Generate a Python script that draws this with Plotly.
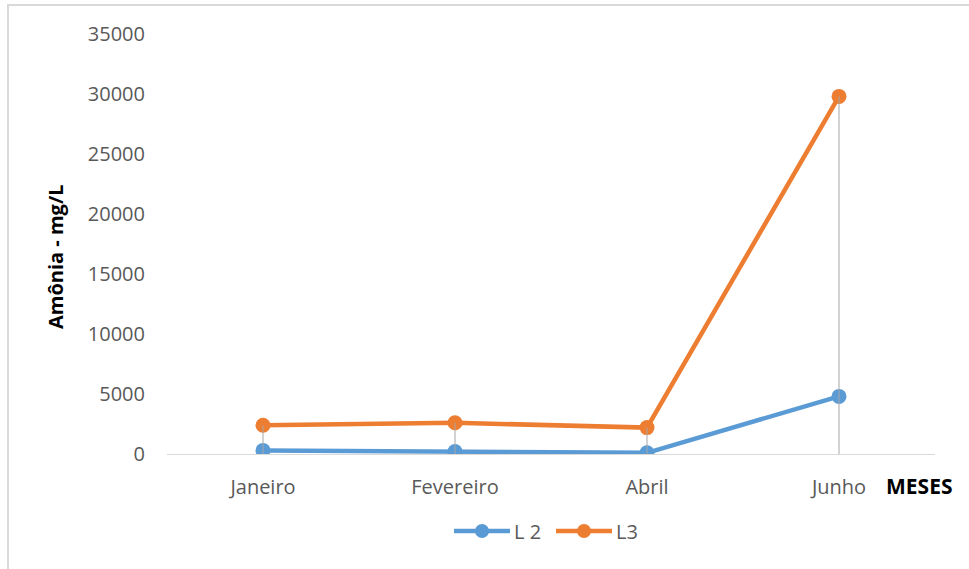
import plotly.graph_objects as go

# Monthly ammonia readings (mg/L) for the two lines
meses = ["Janeiro", "Fevereiro", "Abril", "Junho"]
l2 = [300, 200, 100, 4800]
l3 = [2400, 2600, 2200, 29800]
y_ticks = [0, 5000, 10000, 15000, 20000, 25000, 30000, 35000]
series_names = ["L 2", "L3"]

BLUE = "#5B9BD5"
ORANGE = "#ED7D31"
GREY_TXT = "#595959"
FONT = "Open Sans"

W, H = 969, 569
ML, MR, MT, MB = 167, 34, 34, 115
PW, PH = W - ML - MR, H - MT - MB


def px_x(px):
    """Pixel column -> paper x."""
    return (px - ML) / PW


def px_y(py):
    """Pixel row -> paper y."""
    return (MT + PH - py) / PH


fig = go.Figure()

for name, vals, col in [(series_names[0], l2, BLUE), (series_names[1], l3, ORANGE)]:
    fig.add_trace(go.Scatter(
        x=meses, y=vals, name=name, mode="lines+markers",
        line=dict(color=col, width=4.5),
        marker=dict(color=col, size=15),
        showlegend=False,
    ))

# Drop lines from the highest point of each month down to the axis
dx, dy = [], []
for m, a, b in zip(meses, l2, l3):
    dx += [m, m, None]
    dy += [0, max(a, b), None]
fig.add_trace(go.Scatter(
    x=dx, y=dy, mode="lines", showlegend=False, hoverinfo="skip",
    line=dict(color="#a6a6a6", width=1),
))

# Outer chart frame
fig.add_shape(
    type="rect", xref="paper", yref="paper", layer="below",
    x0=px_x(8), x1=px_x(W + 4), y0=px_y(H + 4), y1=px_y(5),
    line=dict(color="#d9d9d9", width=2), fillcolor="rgba(0,0,0,0)",
)

# Legend below the plot: long line keys with a centred marker
legend_keys = [(series_names[0], BLUE, 454), (series_names[1], ORANGE, 556)]
ly = px_y(531)
r = 7
for name, col, x0 in legend_keys:
    fig.add_shape(type="line", xref="paper", yref="paper",
                  x0=px_x(x0), x1=px_x(x0 + 56), y0=ly, y1=ly,
                  line=dict(color=col, width=4.5))
    cx = x0 + 28
    fig.add_shape(type="circle", xref="paper", yref="paper",
                  x0=px_x(cx - r), x1=px_x(cx + r),
                  y0=px_y(531 + r), y1=px_y(531 - r),
                  line=dict(color=col, width=0), fillcolor=col)
    fig.add_annotation(text=name, xref="paper", yref="paper",
                       x=px_x(x0 + 58), y=ly, xanchor="left", yanchor="middle",
                       showarrow=False,
                       font=dict(family=FONT, size=20, color=GREY_TXT))

fig.add_annotation(
    text="<b>MESES</b>", xref="paper", yref="paper",
    x=px_x(884), y=px_y(486),
    xanchor="left", yanchor="middle", showarrow=False,
    font=dict(family=FONT, size=21, color="black"),
)

fig.add_annotation(
    text="<b>Amônia - mg/L</b>", xref="paper", yref="paper",
    x=px_x(55), y=px_y(257), textangle=-90,
    xanchor="center", yanchor="middle", showarrow=False,
    font=dict(family=FONT, size=20, color="black"),
)

fig.update_xaxes(
    type="category", range=[-0.5, 3.5],
    showline=True, linecolor="#d9d9d9", linewidth=1,
    showgrid=False, zeroline=False, ticks="",
    ticklabelstandoff=15,
    tickfont=dict(family=FONT, size=20, color=GREY_TXT),
)
fig.update_yaxes(
    range=[0, 35000], tickvals=y_ticks,
    ticktext=[str(v) for v in y_ticks],
    showline=False, showgrid=False, zeroline=False, ticks="",
    ticklabelstandoff=21,
    tickfont=dict(family=FONT, size=20, color=GREY_TXT),
)

fig.update_layout(
    width=W, height=H,
    margin=dict(l=ML, r=MR, t=MT, b=MB),
    paper_bgcolor="white", plot_bgcolor="white",
    showlegend=False,
)

fig.write_html("out.html")
